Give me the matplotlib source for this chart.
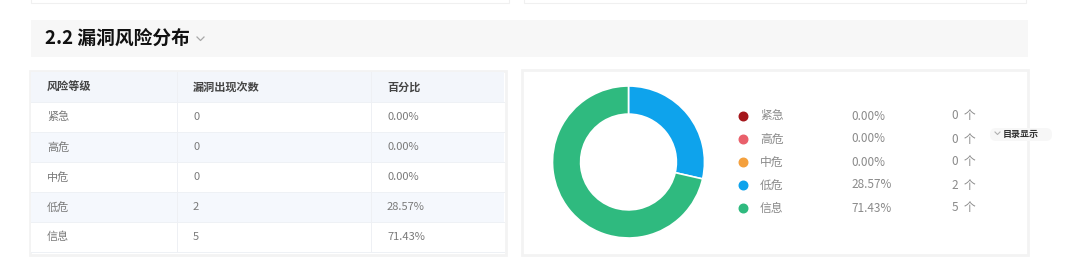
import matplotlib
matplotlib.use("Agg")
import matplotlib.pyplot as plt
from matplotlib.patches import Rectangle, FancyBboxPatch

plt.rcParams['font.family'] = ['Noto Sans CJK SC', 'DejaVu Sans']

# data
title = "2.2 漏洞风险分布"
headers = ["风险等级", "漏洞出现次数", "百分比"]
levels = ["紧急", "高危", "中危", "低危", "信息"]
counts = [0, 0, 0, 2, 5]
percents = ["0.00%", "0.00%", "0.00%", "28.57%", "71.43%"]
colors = ["#a5171c", "#e9606b", "#f4a03d", "#0ea3ec", "#2fba7f"]
unit = "个"
toc_label = "目录显示"

W, H = 1080, 275
fig = plt.figure(figsize=(W / 100, H / 100), dpi=100)
ax = fig.add_axes([0, 0, 1, 1])
ax.set_xlim(0, W)
ax.set_ylim(H, 0)
ax.axis("off")

# faint bottoms of the cards above
ax.add_patch(Rectangle((31, -10), 478, 13, fc="white", ec="#f0f0f0", lw=0.8))
ax.add_patch(Rectangle((524, -10), 502, 13, fc="white", ec="#f0f0f0", lw=0.8))

# section header band
ax.add_patch(Rectangle((31, 20), 997, 37, fc="#f7f7f7", ec="none"))
ax.text(45, 39, title, fontsize=13.5, fontweight="bold", color="#111111",
        va="center", ha="left")
ax.plot([197, 200.5, 204], [37, 40.5, 37], color="#a8a8a8", lw=0.9)

# table card
tx0, tx1 = 31, 504
row_h = 30
top = 72
col_x = [47, 193, 387]
div_x = [177, 371]
ax.add_patch(Rectangle((tx0 - 1.5, top - 1.5), tx1 - tx0 + 3, row_h * 6 + 4,
                       fc="white", ec="#f3f3f3", lw=2))
ax.add_patch(Rectangle((tx0, top), tx1 - tx0, row_h, fc="#f3f6fb", ec="none"))
for i in range(len(levels)):
    y0 = top + row_h * (i + 1)
    fc = "#f5f8fd" if i % 2 == 1 else "white"
    ax.add_patch(Rectangle((tx0, y0), tx1 - tx0, row_h, fc=fc, ec="none"))
    ax.plot([tx0, tx1], [y0, y0], color="#eef1f5", lw=0.7)
ax.plot([tx0, tx1], [top + row_h * 6, top + row_h * 6], color="#eef1f5", lw=0.7)
for dx in div_x:
    ax.plot([dx, dx], [top, top + row_h * 6], color="#eef0f4", lw=0.7)

for x, h in zip(col_x, headers):
    ax.text(x, top + row_h / 2, h, fontsize=8, fontweight="bold", color="#444444",
            va="center", ha="left")
for i, (lv, c, p) in enumerate(zip(levels, counts, percents)):
    yc = top + row_h * (i + 1.5)
    ax.text(col_x[0], yc, lv, fontsize=8, color="#7a7a7a", va="center", ha="left")
    ax.text(col_x[1], yc, str(c), fontsize=8, color="#7a7a7a", va="center", ha="left")
    ax.text(col_x[2], yc, p, fontsize=8, color="#7a7a7a", va="center", ha="left")

# chart card
ax.add_patch(Rectangle((522, 70), 506, 185, fc="white", ec="#f3f3f3", lw=2))

# legend
leg_y0, leg_dy = 116, 23
for i, (lv, c, p, col) in enumerate(zip(levels, counts, percents, colors)):
    yc = leg_y0 + leg_dy * i
    ax.scatter([743], [yc], s=38, color=col, zorder=3)
    ax.text(760, yc, lv, fontsize=8.5, color="#8a8a8a", va="center", ha="left")
    ax.text(851, yc, p, fontsize=8.5, color="#8a8a8a", va="center", ha="left")
    ax.text(952, yc, f"{c}  {unit}", fontsize=8.5, color="#8a8a8a", va="center", ha="left")

# floating toc pill
ax.add_patch(FancyBboxPatch((990, 128), 62, 13, boxstyle="round,pad=0,rounding_size=6",
                            fc="#f7f7f7", ec="none"))
ax.plot([995, 997.5, 1000], [132, 134.5, 132], color="#b0b0b0", lw=0.8)
ax.text(1003, 134.5, toc_label, fontsize=6.5, fontweight="bold", color="#333333",
        va="center", ha="left")

# donut
cx, cy, r = 628.5, 162, 76
dax = fig.add_axes([(cx - r) / W, 1 - (cy + r) / H, 2 * r / W, 2 * r / H])
vals = [v for v in counts if v > 0]
cols = [col for v, col in zip(counts, colors) if v > 0]
dax.pie(vals, colors=cols, startangle=90, counterclock=False, radius=1.0,
        wedgeprops=dict(width=0.37, edgecolor="white", linewidth=1.2))
dax.set_xlim(-1, 1)
dax.set_ylim(-1, 1)
dax.set_aspect("auto")
dax.axis("off")

fig.savefig("out.png", dpi=100)
